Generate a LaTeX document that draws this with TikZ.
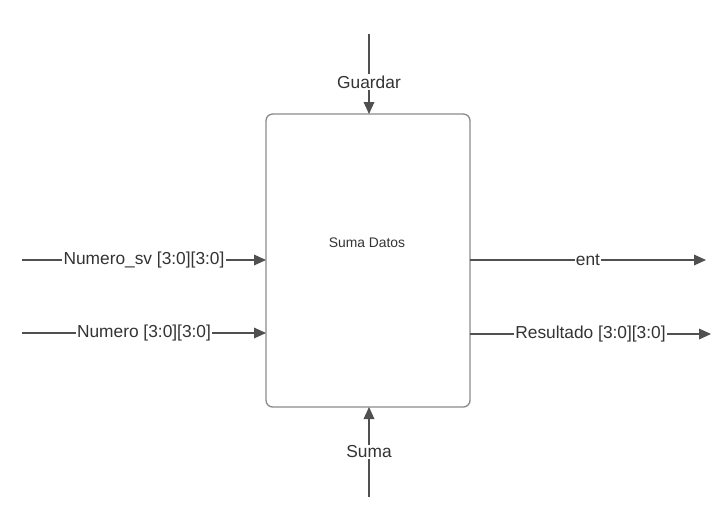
\documentclass[tikz,border=0pt]{standalone}
\usepackage{fontspec}
\setmainfont{Liberation Sans}
\usetikzlibrary{arrows.meta}

\definecolor{wire}{HTML}{505050}
\definecolor{boxline}{HTML}{8A8A8A}
\definecolor{txt}{HTML}{333333}

\begin{document}
\begin{tikzpicture}[x=0.75pt, y=-0.75pt,
    signal/.style={-{Triangle[length=9pt,width=8pt]}, wire, line width=0.9pt},
    wirelabel/.style={fill=white, text=txt, font=\fontsize{13}{15}\selectfont, inner sep=1pt}]
    % Fix the page size
    \useasboundingbox (0,0) rectangle (727,512);

    % Draw the main block
    \draw[boxline, line width=1pt, rounded corners=5pt] (266,114) rectangle (470,407);
    \node[text=txt, font=\fontsize{10.4}{12}\selectfont] (title) at (367,243) {Suma Datos};

    % Define the ends of the wires
    \coordinate (GS) at (369,34);    % Guardar start
    \coordinate (GE) at (369,114);   % Guardar end
    \coordinate (SS) at (369,497);   % Suma start
    \coordinate (SE) at (369,407);   % Suma end
    \coordinate (NVS) at (22,260);   % Numero_sv start
    \coordinate (NVE) at (266,260);  % Numero_sv end
    \coordinate (NS) at (22,333);    % Numero start
    \coordinate (NE) at (266,333);   % Numero end
    \coordinate (ES) at (470,260);   % ent start
    \coordinate (EE) at (706,260);   % ent end
    \coordinate (RS) at (470,334);   % Resultado start
    \coordinate (RE) at (711,334);   % Resultado end

    % Draw the inputs
    \draw[signal] (GS) -- (GE) node[pos=0.6, wirelabel] {Guardar};
    \draw[signal] (SS) -- (SE) node[pos=0.5, wirelabel] {Suma};
    \draw[signal] (NVS) -- (NVE) node[pos=0.5, wirelabel] {Numero\_sv [3:0][3:0]};
    \draw[signal] (NS) -- (NE) node[pos=0.5, wirelabel] {Numero [3:0][3:0]};

    % Draw the outputs
    \draw[signal] (ES) -- (EE) node[pos=0.5, wirelabel] {ent};
    \draw[signal] (RS) -- (RE) node[pos=0.5, wirelabel] {Resultado [3:0][3:0]};
\end{tikzpicture}
\end{document}
